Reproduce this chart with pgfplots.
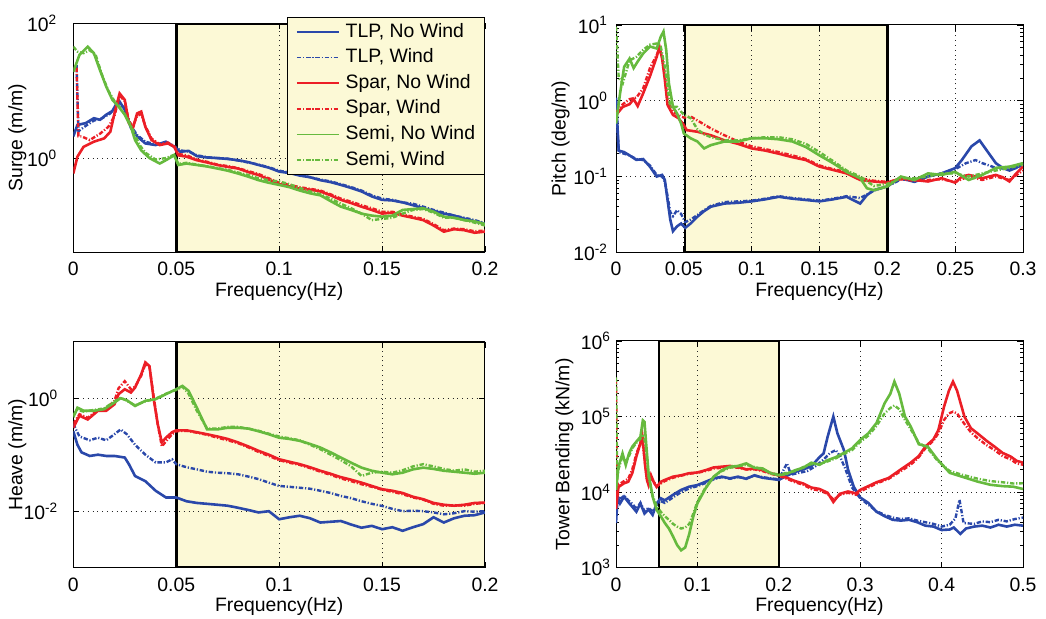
\documentclass[border=0pt]{standalone}
\usepackage{fontspec}
\setmainfont{Liberation Sans}
\usepackage{pgfplots}
\pgfplotsset{compat=1.18}
\usetikzlibrary{calc}
\definecolor{cblue}{RGB}{42,72,170}
\definecolor{cred}{RGB}{236,30,38}
\definecolor{cgreen}{RGB}{102,186,62}
\definecolor{ybg}{RGB}{252,249,214}
\tikzset{
  nw/.style={line width=1.3pt},
  wd/.style={line width=1.2pt, dash pattern=on 2.2pt off 0.9pt on 0.6pt off 0.9pt},
}
\pgfplotsset{
  every axis/.append style={
    scale only axis, set layers,
    axis line style={line width=0.5pt},
    tick align=inside,
    major tick length=3pt, minor tick length=1.6pt,
    tick style={line width=0.4pt, black},
    grid=major,
    major grid style={dotted, line width=0.5pt, black!85},
    tick label style={font=\fontsize{9.7}{11}\selectfont},
    label style={font=\fontsize{9.7}{11}\selectfont},
    xticklabel style={yshift=-1.5pt},
    xlabel style={at={(axis description cs:0.5,-0.172)}, anchor=center},
    ylabel style={at={(axis description cs:-0.136,0.5)}, anchor=center},
  },
}
\newcommand{\yshadebox}[4]{%
  \begin{pgfonlayer}{axis background}
    \fill[ybg] (axis cs:#1,#3) rectangle (axis cs:#2,#4);
  \end{pgfonlayer}
  \draw[line width=1.3pt] (axis cs:#1,#3) rectangle (axis cs:#2,#4);
}
\begin{document}
\begin{tikzpicture}
% ---------------- Surge ----------------
\begin{axis}[name=tl, ymode=log,
  at={(36.65pt,183.35pt)}, anchor=south west,
  width=205.85pt, height=114.5pt,
  xmin=0, xmax=0.2, ymin=0.04, ymax=100,
  xtick={0,0.05,0.1,0.15,0.2}, xticklabels={0,0.05,0.1,0.15,0.2},
  ytick={1,100}, yticklabels={10\textsuperscript{0},10\textsuperscript{2}},
  yticklabel style={xshift=-4.5pt},
  yminorticks=false,
  xlabel={Frequency(Hz)}, ylabel={Surge (m/m)},
  legend cell align=left,
  legend image code/.code={\draw[#1,line width=0.8pt] (0pt,0pt) -- (21pt,0pt);},
  legend style={name=leg, at={(1,1.0275)}, anchor=north east, draw=black, line width=0.5pt,
    fill=ybg, font=\fontsize{9.7}{11}\selectfont, inner xsep=4.2pt, inner ysep=2.1pt,
    row sep=2.4pt, nodes={inner sep=0.5pt, text height=0.72em, text depth=0.22em},
    /tikz/every odd column/.append style={column sep=2.5pt}},
]
\yshadebox{0.05}{0.2}{0.04}{100}
\addplot[nw,cblue] coordinates {(0,2.1)(0.002,3.1)(0.006,3.3)(0.010,3.9)(0.013,3.7)(0.016,4.4)(0.019,5.0)(0.022,7.3)(0.025,5.2)(0.028,2.8)(0.031,2.1)(0.035,1.65)(0.040,1.56)(0.045,1.75)(0.049,1.47)(0.052,1.24)(0.056,1.28)(0.060,1.07)(0.065,1.02)(0.070,1.0)(0.075,0.97)(0.080,0.93)(0.085,0.87)(0.090,0.79)(0.095,0.72)(0.100,0.63)(0.105,0.60)(0.110,0.55)(0.115,0.52)(0.120,0.47)(0.125,0.44)(0.130,0.40)(0.135,0.36)(0.140,0.32)(0.145,0.27)(0.150,0.24)(0.155,0.235)(0.160,0.22)(0.165,0.20)(0.170,0.18)(0.175,0.165)(0.180,0.15)(0.185,0.14)(0.190,0.126)(0.195,0.115)(0.200,0.105)};
\addlegendentry{TLP, No Wind}
\addplot[wd,cblue] coordinates {(0.0016,24)(0.0025,2.5)(0.006,3.0)(0.010,3.6)(0.014,3.9)(0.018,4.6)(0.022,6.5)(0.025,5.5)(0.028,3.0)(0.031,2.2)(0.035,1.75)(0.040,1.6)(0.045,1.7)(0.049,1.5)(0.052,1.3)(0.056,1.25)(0.060,1.1)(0.065,1.03)(0.070,1.0)(0.075,0.98)(0.080,0.92)(0.085,0.86)(0.090,0.80)(0.095,0.73)(0.100,0.65)(0.105,0.61)(0.110,0.56)(0.115,0.52)(0.120,0.48)(0.125,0.45)(0.130,0.41)(0.135,0.37)(0.140,0.33)(0.145,0.28)(0.150,0.25)(0.155,0.24)(0.160,0.22)(0.165,0.21)(0.170,0.19)(0.175,0.17)(0.180,0.155)(0.185,0.14)(0.190,0.13)(0.195,0.12)(0.200,0.108)};
\addlegendentry{TLP, Wind}
\addplot[nw,cred] coordinates {(0,0.59)(0.002,1.05)(0.005,1.47)(0.010,1.75)(0.015,1.96)(0.018,2.46)(0.020,4.6)(0.0225,9.1)(0.025,7.3)(0.027,3.3)(0.029,2.8)(0.031,4.6)(0.033,4.9)(0.035,2.9)(0.038,1.85)(0.042,1.56)(0.046,1.65)(0.049,1.47)(0.051,1.1)(0.055,1.05)(0.060,0.93)(0.065,0.86)(0.070,0.79)(0.075,0.74)(0.080,0.70)(0.085,0.62)(0.090,0.56)(0.095,0.48)(0.100,0.41)(0.105,0.38)(0.110,0.35)(0.115,0.34)(0.120,0.32)(0.125,0.28)(0.130,0.24)(0.135,0.215)(0.140,0.19)(0.145,0.17)(0.150,0.15)(0.155,0.155)(0.160,0.14)(0.165,0.13)(0.170,0.12)(0.175,0.10)(0.180,0.081)(0.185,0.088)(0.190,0.085)(0.195,0.078)(0.200,0.081)};
\addlegendentry{Spar, No Wind}
\addplot[wd,cred] coordinates {(0.0016,22)(0.0025,2.1)(0.004,2.1)(0.008,1.85)(0.013,2.3)(0.017,2.9)(0.020,4.2)(0.0225,8.5)(0.025,7.0)(0.027,3.5)(0.029,3.0)(0.031,4.2)(0.033,4.5)(0.035,3.0)(0.038,1.95)(0.042,1.6)(0.046,1.7)(0.049,1.5)(0.051,1.15)(0.055,1.1)(0.060,0.95)(0.065,0.88)(0.070,0.80)(0.075,0.76)(0.080,0.71)(0.085,0.64)(0.090,0.58)(0.095,0.50)(0.100,0.43)(0.105,0.40)(0.110,0.37)(0.115,0.35)(0.120,0.33)(0.125,0.29)(0.130,0.25)(0.135,0.225)(0.140,0.20)(0.145,0.18)(0.150,0.16)(0.155,0.16)(0.160,0.145)(0.165,0.135)(0.170,0.125)(0.175,0.105)(0.180,0.085)(0.185,0.09)(0.190,0.088)(0.195,0.082)(0.200,0.084)};
\addlegendentry{Spar, Wind}
\addplot[nw,cgreen] coordinates {(0,19)(0.003,34)(0.007,45)(0.010,36)(0.013,20)(0.016,11.5)(0.019,7.3)(0.022,5.8)(0.025,4.4)(0.028,2.9)(0.030,1.85)(0.033,1.3)(0.037,1.0)(0.042,0.83)(0.045,0.93)(0.049,1.1)(0.051,0.79)(0.055,0.83)(0.060,0.79)(0.065,0.75)(0.070,0.70)(0.075,0.65)(0.080,0.59)(0.085,0.53)(0.090,0.47)(0.095,0.43)(0.100,0.40)(0.105,0.37)(0.110,0.33)(0.115,0.30)(0.120,0.28)(0.125,0.23)(0.130,0.19)(0.135,0.17)(0.140,0.15)(0.145,0.14)(0.150,0.135)(0.155,0.14)(0.160,0.17)(0.165,0.175)(0.170,0.18)(0.175,0.16)(0.180,0.135)(0.185,0.13)(0.190,0.12)(0.195,0.115)(0.200,0.105)};
\addlegendentry{Semi, No Wind}
\addplot[wd,cgreen] coordinates {(0,45)(0.002,38)(0.005,36)(0.008,40)(0.011,33)(0.014,17)(0.017,10)(0.020,7.0)(0.023,5.5)(0.026,4.0)(0.029,2.6)(0.032,1.6)(0.035,1.2)(0.040,0.95)(0.045,1.0)(0.049,1.12)(0.051,0.82)(0.055,0.85)(0.060,0.80)(0.065,0.76)(0.070,0.71)(0.075,0.67)(0.080,0.61)(0.085,0.56)(0.090,0.50)(0.095,0.47)(0.100,0.45)(0.105,0.41)(0.110,0.36)(0.115,0.32)(0.120,0.29)(0.125,0.25)(0.130,0.21)(0.135,0.18)(0.140,0.15)(0.145,0.12)(0.150,0.125)(0.155,0.13)(0.160,0.15)(0.165,0.17)(0.170,0.175)(0.175,0.155)(0.180,0.13)(0.185,0.13)(0.190,0.12)(0.195,0.11)(0.200,0.10)};
\addlegendentry{Semi, Wind}
\end{axis}
\fill[white] ([xshift=0.25pt,yshift=-0.25pt]leg.north west) rectangle ($(leg.east |- tl.north)+(-0.25pt,0.65pt)$);
% ---------------- Pitch ----------------
\begin{axis}[name=tr, ymode=log,
  at={(308pt,183.35pt)}, anchor=south west,
  width=203.5pt, height=113.65pt,
  xmin=0, xmax=0.3, ymin=0.01, ymax=10,
  xtick={0,0.05,0.1,0.15,0.2,0.25,0.3}, xticklabels={0,0.05,0.1,0.15,0.2,0.25,0.3},
  ytick={0.01,0.1,1,10}, yticklabels={10\textsuperscript{-2},10\textsuperscript{-1},10\textsuperscript{0},10\textsuperscript{1}},
  yticklabel style={xshift=-0.5pt},
  xlabel={Frequency(Hz)}, ylabel={Pitch (deg/m)},
]
\yshadebox{0.051}{0.2}{0.01}{10}
\addplot[nw,cblue] coordinates {(0,1.1)(0.002,0.22)(0.006,0.21)(0.010,0.19)(0.015,0.166)(0.020,0.17)(0.025,0.135)(0.030,0.10)(0.034,0.105)(0.036,0.09)(0.038,0.049)(0.040,0.027)(0.042,0.019)(0.045,0.022)(0.048,0.024)(0.051,0.021)(0.055,0.024)(0.060,0.0295)(0.065,0.035)(0.070,0.040)(0.080,0.044)(0.090,0.045)(0.100,0.047)(0.110,0.050)(0.120,0.054)(0.130,0.051)(0.140,0.049)(0.150,0.047)(0.160,0.050)(0.170,0.054)(0.180,0.044)(0.185,0.057)(0.190,0.066)(0.200,0.074)(0.205,0.085)(0.210,0.095)(0.220,0.085)(0.230,0.10)(0.240,0.11)(0.250,0.129)(0.255,0.166)(0.262,0.25)(0.268,0.30)(0.275,0.20)(0.280,0.15)(0.285,0.13)(0.290,0.12)(0.295,0.13)(0.300,0.15)};
\addplot[wd,cblue] coordinates {(0,1.0)(0.002,0.21)(0.006,0.20)(0.010,0.19)(0.015,0.17)(0.020,0.165)(0.025,0.14)(0.030,0.105)(0.034,0.10)(0.036,0.085)(0.038,0.055)(0.040,0.034)(0.042,0.030)(0.045,0.036)(0.048,0.032)(0.051,0.025)(0.055,0.027)(0.060,0.031)(0.065,0.036)(0.070,0.041)(0.080,0.046)(0.090,0.047)(0.100,0.048)(0.110,0.051)(0.120,0.055)(0.130,0.052)(0.140,0.050)(0.150,0.048)(0.160,0.051)(0.170,0.055)(0.180,0.052)(0.185,0.058)(0.190,0.065)(0.200,0.075)(0.205,0.082)(0.210,0.092)(0.220,0.088)(0.230,0.10)(0.240,0.11)(0.250,0.125)(0.258,0.15)(0.265,0.165)(0.270,0.15)(0.275,0.14)(0.280,0.13)(0.290,0.125)(0.300,0.14)};
\addplot[nw,cred] coordinates {(0,0.65)(0.005,0.83)(0.010,0.90)(0.013,1.05)(0.016,0.85)(0.020,1.25)(0.025,2.1)(0.030,3.8)(0.032,5.2)(0.034,3.6)(0.036,1.9)(0.038,0.88)(0.042,0.65)(0.046,0.59)(0.050,0.48)(0.052,0.41)(0.060,0.39)(0.070,0.35)(0.080,0.30)(0.090,0.27)(0.100,0.235)(0.110,0.22)(0.120,0.20)(0.130,0.18)(0.140,0.165)(0.150,0.135)(0.160,0.122)(0.170,0.11)(0.180,0.09)(0.190,0.086)(0.200,0.083)(0.210,0.095)(0.220,0.09)(0.230,0.086)(0.240,0.095)(0.250,0.083)(0.255,0.1)(0.260,0.105)(0.270,0.095)(0.280,0.105)(0.285,0.098)(0.290,0.086)(0.295,0.11)(0.300,0.135)};
\addplot[wd,cred] coordinates {(0,0.7)(0.005,0.9)(0.010,1.05)(0.015,1.1)(0.020,1.45)(0.025,2.7)(0.030,4.0)(0.032,4.9)(0.034,3.8)(0.036,2.2)(0.038,1.0)(0.042,0.72)(0.046,0.65)(0.050,0.60)(0.055,0.62)(0.060,0.55)(0.070,0.43)(0.080,0.35)(0.090,0.29)(0.100,0.25)(0.110,0.23)(0.120,0.21)(0.130,0.19)(0.140,0.17)(0.150,0.14)(0.160,0.125)(0.170,0.115)(0.180,0.095)(0.190,0.088)(0.200,0.085)(0.210,0.092)(0.220,0.088)(0.230,0.09)(0.240,0.092)(0.250,0.085)(0.260,0.10)(0.270,0.09)(0.280,0.10)(0.290,0.09)(0.300,0.12)};
\addplot[nw,cgreen] coordinates {(0,0.5)(0.003,1.25)(0.006,2.8)(0.010,3.6)(0.013,2.7)(0.016,3.3)(0.020,4.2)(0.025,5.2)(0.030,4.9)(0.033,7.0)(0.035,8.2)(0.037,4.7)(0.039,1.7)(0.042,0.83)(0.045,0.68)(0.048,0.50)(0.050,0.37)(0.055,0.32)(0.060,0.29)(0.065,0.235)(0.070,0.26)(0.080,0.29)(0.090,0.29)(0.100,0.32)(0.110,0.32)(0.120,0.31)(0.130,0.29)(0.140,0.245)(0.150,0.19)(0.160,0.15)(0.170,0.115)(0.180,0.095)(0.185,0.07)(0.190,0.066)(0.200,0.074)(0.210,0.10)(0.220,0.09)(0.230,0.11)(0.240,0.105)(0.250,0.115)(0.260,0.09)(0.270,0.105)(0.280,0.13)(0.290,0.135)(0.300,0.15)};
\addplot[wd,cgreen] coordinates {(0,9.5)(0.002,2.0)(0.005,1.7)(0.010,3.4)(0.015,3.8)(0.020,4.7)(0.025,5.5)(0.030,5.7)(0.033,5.2)(0.036,2.8)(0.040,0.83)(0.045,0.83)(0.050,0.65)(0.055,0.59)(0.060,0.42)(0.065,0.36)(0.070,0.33)(0.080,0.30)(0.090,0.30)(0.100,0.32)(0.110,0.33)(0.120,0.33)(0.130,0.31)(0.140,0.27)(0.150,0.21)(0.160,0.16)(0.170,0.12)(0.180,0.10)(0.190,0.075)(0.200,0.08)(0.210,0.095)(0.220,0.095)(0.230,0.10)(0.240,0.11)(0.250,0.11)(0.260,0.10)(0.270,0.11)(0.280,0.12)(0.290,0.13)(0.300,0.145)};
\end{axis}
% ---------------- Heave ----------------
\begin{axis}[name=bl, ymode=log,
  at={(36.65pt,25.65pt)}, anchor=south west,
  width=205.85pt, height=113pt,
  xmin=0, xmax=0.2, ymin=0.001, ymax=10,
  xtick={0,0.05,0.1,0.15,0.2}, xticklabels={0,0.05,0.1,0.15,0.2},
  ytick={0.01,1}, yticklabels={10\textsuperscript{-2},10\textsuperscript{0}},
  yticklabel style={xshift=-4pt},
  yminorticks=false,
  xlabel={Frequency(Hz)}, ylabel={Heave (m/m)},
]
\yshadebox{0.05}{0.2}{0.001}{10}
\addplot[nw,cblue] coordinates {(0,0.26)(0.002,0.15)(0.004,0.11)(0.008,0.095)(0.012,0.10)(0.016,0.095)(0.020,0.095)(0.025,0.089)(0.027,0.068)(0.030,0.042)(0.035,0.034)(0.040,0.023)(0.045,0.0175)(0.050,0.0175)(0.055,0.015)(0.060,0.014)(0.065,0.0135)(0.070,0.013)(0.075,0.0125)(0.080,0.0115)(0.085,0.0105)(0.090,0.0095)(0.095,0.010)(0.100,0.0072)(0.105,0.0078)(0.110,0.0083)(0.115,0.0075)(0.120,0.0063)(0.125,0.0065)(0.130,0.0067)(0.135,0.0058)(0.140,0.0051)(0.145,0.0055)(0.150,0.0048)(0.155,0.0052)(0.160,0.0045)(0.165,0.0052)(0.170,0.0059)(0.175,0.0078)(0.180,0.0063)(0.185,0.0075)(0.190,0.0083)(0.195,0.0085)(0.200,0.0095)};
\addplot[wd,cblue] coordinates {(0,0.35)(0.003,0.21)(0.008,0.18)(0.012,0.20)(0.016,0.18)(0.020,0.23)(0.023,0.28)(0.026,0.23)(0.030,0.15)(0.035,0.10)(0.040,0.073)(0.045,0.073)(0.048,0.083)(0.050,0.068)(0.055,0.06)(0.060,0.055)(0.065,0.05)(0.070,0.048)(0.075,0.047)(0.080,0.045)(0.085,0.041)(0.090,0.037)(0.095,0.032)(0.100,0.028)(0.105,0.027)(0.110,0.026)(0.115,0.025)(0.120,0.023)(0.125,0.021)(0.130,0.0186)(0.135,0.017)(0.140,0.015)(0.145,0.0135)(0.150,0.0124)(0.155,0.011)(0.160,0.010)(0.165,0.0102)(0.170,0.010)(0.175,0.0095)(0.180,0.0088)(0.185,0.0092)(0.190,0.010)(0.195,0.0098)(0.200,0.010)};
\addplot[nw,cred] coordinates {(0,0.30)(0.003,0.49)(0.007,0.42)(0.012,0.60)(0.016,0.60)(0.020,0.78)(0.022,1.18)(0.025,1.44)(0.028,1.26)(0.030,1.54)(0.033,2.65)(0.035,4.3)(0.037,3.7)(0.039,1.0)(0.041,0.35)(0.043,0.165)(0.045,0.20)(0.048,0.25)(0.050,0.27)(0.055,0.27)(0.060,0.25)(0.065,0.23)(0.070,0.21)(0.075,0.19)(0.080,0.165)(0.085,0.14)(0.090,0.117)(0.095,0.10)(0.100,0.083)(0.105,0.075)(0.110,0.068)(0.115,0.06)(0.120,0.052)(0.125,0.046)(0.130,0.040)(0.135,0.036)(0.140,0.032)(0.145,0.028)(0.150,0.0245)(0.155,0.023)(0.160,0.021)(0.165,0.018)(0.170,0.0163)(0.175,0.014)(0.180,0.013)(0.185,0.0125)(0.190,0.013)(0.195,0.014)(0.200,0.0142)};
\addplot[wd,cred] coordinates {(0,0.35)(0.003,0.52)(0.007,0.45)(0.012,0.62)(0.016,0.65)(0.020,0.9)(0.022,1.5)(0.025,2.0)(0.028,1.44)(0.030,1.6)(0.033,2.5)(0.035,4.0)(0.037,3.6)(0.039,1.1)(0.041,0.35)(0.043,0.14)(0.046,0.19)(0.048,0.23)(0.050,0.26)(0.055,0.265)(0.060,0.245)(0.065,0.225)(0.070,0.20)(0.075,0.18)(0.080,0.16)(0.085,0.135)(0.090,0.112)(0.095,0.095)(0.100,0.080)(0.105,0.072)(0.110,0.066)(0.115,0.058)(0.120,0.050)(0.125,0.044)(0.130,0.038)(0.135,0.034)(0.140,0.030)(0.145,0.027)(0.150,0.024)(0.155,0.022)(0.160,0.020)(0.165,0.0175)(0.170,0.016)(0.175,0.0135)(0.180,0.0125)(0.185,0.0128)(0.190,0.0125)(0.195,0.0135)(0.200,0.014)};
\addplot[nw,cgreen] coordinates {(0,0.46)(0.002,0.68)(0.005,0.60)(0.010,0.60)(0.015,0.64)(0.020,0.84)(0.023,1.0)(0.026,0.92)(0.030,0.73)(0.035,0.90)(0.040,0.96)(0.045,1.18)(0.050,1.44)(0.053,1.65)(0.056,1.35)(0.060,0.68)(0.065,0.28)(0.070,0.28)(0.075,0.30)(0.080,0.30)(0.085,0.29)(0.090,0.26)(0.095,0.23)(0.100,0.20)(0.105,0.19)(0.110,0.176)(0.115,0.155)(0.120,0.134)(0.125,0.11)(0.130,0.089)(0.135,0.072)(0.140,0.059)(0.145,0.052)(0.150,0.048)(0.155,0.045)(0.160,0.048)(0.165,0.055)(0.170,0.059)(0.175,0.056)(0.180,0.052)(0.185,0.05)(0.190,0.048)(0.195,0.046)(0.200,0.048)};
\addplot[wd,cgreen] coordinates {(0,0.50)(0.002,0.62)(0.005,0.58)(0.010,0.62)(0.015,0.66)(0.020,0.88)(0.023,1.02)(0.026,0.90)(0.030,0.75)(0.035,0.88)(0.040,0.98)(0.045,1.2)(0.050,1.4)(0.053,1.6)(0.056,1.2)(0.060,0.60)(0.065,0.29)(0.070,0.29)(0.075,0.31)(0.080,0.31)(0.085,0.29)(0.090,0.265)(0.095,0.235)(0.100,0.21)(0.105,0.195)(0.110,0.18)(0.115,0.15)(0.120,0.125)(0.125,0.10)(0.130,0.080)(0.135,0.062)(0.140,0.042)(0.145,0.048)(0.150,0.05)(0.155,0.048)(0.160,0.053)(0.165,0.062)(0.170,0.068)(0.175,0.062)(0.180,0.056)(0.185,0.052)(0.190,0.055)(0.195,0.05)(0.200,0.052)};
\end{axis}
% ---------------- Tower Bending ----------------
\begin{axis}[name=br, ymode=log,
  at={(308pt,25.65pt)}, anchor=south west,
  width=203.5pt, height=113.35pt,
  xmin=0, xmax=0.5, ymin=1000, ymax=1000000,
  xtick={0,0.1,0.2,0.3,0.4,0.5}, xticklabels={0,0.1,0.2,0.3,0.4,0.5},
  ytick={1000,10000,100000,1000000}, yticklabels={10\textsuperscript{3},10\textsuperscript{4},10\textsuperscript{5},10\textsuperscript{6}},
  yticklabel style={xshift=1pt},
  xlabel={Frequency(Hz)}, ylabel={Tower Bending (kN/m)},
  ylabel style={at={(axis description cs:-0.127,0.5)}},
]
\yshadebox{0.053}{0.2}{1000}{1000000}
\addplot[nw,cblue] coordinates {(0,3900)(0.002,8700)(0.005,7100)(0.010,8700)(0.015,7400)(0.020,6400)(0.025,5500)(0.030,7100)(0.035,5200)(0.040,5900)(0.045,5000)(0.050,7100)(0.055,8300)(0.060,7800)(0.070,9200)(0.080,10700)(0.090,11800)(0.100,12400)(0.110,13700)(0.120,15200)(0.130,16000)(0.140,15200)(0.150,16000)(0.160,15000)(0.170,16700)(0.180,15500)(0.190,15000)(0.200,14500)(0.210,16500)(0.220,18500)(0.230,20000)(0.240,22000)(0.250,29000)(0.255,32500)(0.260,54000)(0.267,100000)(0.272,60000)(0.280,36000)(0.285,20000)(0.292,11800)(0.300,8500)(0.310,7200)(0.320,5500)(0.330,4800)(0.340,4300)(0.350,4200)(0.360,4300)(0.370,4000)(0.380,3600)(0.390,3500)(0.400,3150)(0.410,3200)(0.415,3400)(0.423,2800)(0.430,3300)(0.440,3500)(0.450,3600)(0.460,3400)(0.470,3700)(0.480,3500)(0.490,3700)(0.500,3600)};
\addplot[wd,cblue] coordinates {(0,5000)(0.002,9500)(0.005,8000)(0.010,9000)(0.015,7800)(0.020,7000)(0.025,6000)(0.030,7200)(0.035,5600)(0.040,6200)(0.045,5500)(0.050,6800)(0.055,7600)(0.060,7200)(0.070,8500)(0.080,10000)(0.090,11200)(0.100,12000)(0.110,13200)(0.120,14800)(0.130,15800)(0.140,15000)(0.150,15800)(0.160,15200)(0.170,16500)(0.180,15800)(0.190,15200)(0.200,14800)(0.210,24000)(0.215,17000)(0.225,18000)(0.235,19000)(0.245,22000)(0.255,27000)(0.263,33000)(0.270,36000)(0.275,30000)(0.282,20000)(0.290,11500)(0.300,8300)(0.310,6800)(0.320,5600)(0.330,5000)(0.340,4600)(0.350,4400)(0.360,4500)(0.370,4200)(0.380,4000)(0.390,3800)(0.400,3500)(0.410,3700)(0.417,4500)(0.422,7900)(0.427,3900)(0.440,3800)(0.450,4100)(0.460,4000)(0.470,4300)(0.480,4100)(0.490,4400)(0.500,4600)};
\addplot[nw,cred] coordinates {(0,6000)(0.003,11700)(0.010,13100)(0.015,13700)(0.020,17800)(0.025,29500)(0.030,44500)(0.032,60000)(0.034,36500)(0.036,21700)(0.038,14500)(0.040,12400)(0.043,16700)(0.047,13100)(0.050,11700)(0.055,13700)(0.060,14500)(0.070,16000)(0.080,16700)(0.090,17800)(0.100,18200)(0.110,19500)(0.120,21200)(0.130,21700)(0.140,22200)(0.150,21500)(0.160,20000)(0.170,20500)(0.180,19500)(0.190,17800)(0.200,16700)(0.210,15500)(0.220,14000)(0.230,13000)(0.240,11500)(0.250,11000)(0.260,9800)(0.267,7400)(0.275,9500)(0.285,10200)(0.295,9600)(0.300,10700)(0.310,12000)(0.320,13500)(0.335,15400)(0.350,20000)(0.362,24500)(0.372,30000)(0.380,40000)(0.390,50000)(0.396,66000)(0.403,135000)(0.409,220000)(0.414,290000)(0.419,220000)(0.428,100000)(0.436,70000)(0.444,60000)(0.455,48000)(0.465,40000)(0.475,33000)(0.485,29500)(0.492,26000)(0.500,24500)};
\addplot[wd,cred] coordinates {(0,300000)(0.0015,9000)(0.003,12500)(0.010,14000)(0.015,15000)(0.020,20000)(0.025,32000)(0.030,45000)(0.032,50000)(0.034,35000)(0.036,22000)(0.038,15000)(0.040,13000)(0.043,15500)(0.047,13500)(0.050,12000)(0.055,13000)(0.060,14000)(0.070,15500)(0.080,16500)(0.090,17500)(0.100,18000)(0.110,19000)(0.120,20500)(0.130,21000)(0.140,21500)(0.150,21000)(0.160,20000)(0.170,20000)(0.180,19000)(0.190,17500)(0.200,16500)(0.210,15000)(0.220,13500)(0.230,12500)(0.240,11000)(0.250,10500)(0.260,9500)(0.267,8000)(0.275,9200)(0.285,9800)(0.295,9200)(0.300,10200)(0.310,11500)(0.320,13000)(0.335,15000)(0.350,19000)(0.362,23000)(0.372,29000)(0.380,38000)(0.390,48000)(0.396,60000)(0.403,90000)(0.409,110000)(0.414,116000)(0.419,110000)(0.428,80000)(0.436,62000)(0.444,52000)(0.455,42000)(0.465,36000)(0.475,30000)(0.485,27000)(0.492,24000)(0.500,23000)};
\addplot[nw,cgreen] coordinates {(0,10700)(0.003,21700)(0.008,32500)(0.012,22800)(0.016,32500)(0.020,40000)(0.025,46500)(0.030,54000)(0.033,89000)(0.035,85000)(0.037,44500)(0.040,17800)(0.045,8700)(0.050,5800)(0.055,4800)(0.060,3900)(0.065,3300)(0.070,2600)(0.075,2000)(0.080,1700)(0.085,1850)(0.090,2800)(0.095,4800)(0.100,7100)(0.110,11200)(0.120,16000)(0.130,19500)(0.140,21700)(0.150,22200)(0.160,24000)(0.170,21000)(0.180,20600)(0.190,17800)(0.200,16700)(0.210,17500)(0.220,19500)(0.230,21000)(0.240,24500)(0.250,23000)(0.260,26500)(0.270,29000)(0.280,33000)(0.290,38000)(0.300,49000)(0.310,60000)(0.320,82000)(0.330,150000)(0.337,200000)(0.342,290000)(0.348,200000)(0.355,100000)(0.362,74000)(0.372,43000)(0.383,40000)(0.395,27000)(0.410,18000)(0.425,16000)(0.445,13700)(0.460,12500)(0.475,12000)(0.488,11800)(0.500,11000)};
\addplot[wd,cgreen] coordinates {(0,330000)(0.0015,15000)(0.003,20000)(0.008,30000)(0.012,25000)(0.016,30000)(0.020,38000)(0.025,45000)(0.030,51000)(0.033,55000)(0.035,50000)(0.037,35000)(0.040,16000)(0.045,9000)(0.050,6500)(0.055,5500)(0.060,4800)(0.065,4300)(0.070,3800)(0.075,3500)(0.080,3300)(0.085,3400)(0.090,3800)(0.095,5200)(0.100,7500)(0.110,11500)(0.120,16000)(0.130,19000)(0.140,21000)(0.150,22000)(0.160,23000)(0.170,21500)(0.180,20000)(0.190,18000)(0.200,17000)(0.210,18000)(0.220,19000)(0.230,21500)(0.240,23500)(0.250,23500)(0.260,25500)(0.270,28000)(0.280,32000)(0.290,36000)(0.300,46000)(0.310,56000)(0.320,75000)(0.330,110000)(0.337,130000)(0.342,140000)(0.348,125000)(0.355,90000)(0.362,68000)(0.372,45000)(0.383,38000)(0.395,26000)(0.410,19000)(0.425,17000)(0.445,15000)(0.460,14000)(0.475,13500)(0.488,13000)(0.500,13100)};
\end{axis}
\pgfresetboundingbox
\path[use as bounding box] (0,0) rectangle (523pt,309.5pt);
\end{tikzpicture}
\end{document}
